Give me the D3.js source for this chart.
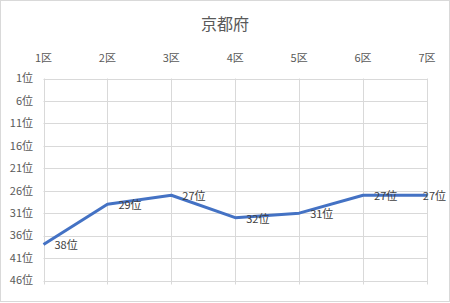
<!DOCTYPE html>
<html>
<head>
<meta charset="utf-8">
<script src="https://cdn.jsdelivr.net/npm/d3@7"></script>
<style>
  body { margin: 0; background: #fff; }
  text { font-family: "Noto Sans CJK JP", sans-serif; }
</style>
</head>
<body>
<div id="canvas"></div>
<script>
"use strict";

let svgWidth = 450;
let svgHeight = 303;
let margin = { top: 78.5, right: 23, bottom: 22.5, left: 43.5 };

/* === Data === */
let districts = ["1区", "2区", "3区", "4区", "5区", "6区", "7区"];
let ranks = [38, 29, 27, 32, 31, 27, 27];
let rankTicks = [1, 6, 11, 16, 21, 26, 31, 36, 41, 46];

/* === Scales === */
let xScale = d3.scalePoint()
  .domain(districts)
  .range([margin.left, svgWidth - margin.right]);

let yScale = d3.scaleLinear()
  .domain([1, 46])
  .range([margin.top, svgHeight - margin.bottom]);

let svg = d3.select("#canvas")
  .append("svg")
  .attr("width", svgWidth)
  .attr("height", svgHeight);

// chart border
svg.append("rect")
  .attr("x", 0.5).attr("y", 0.5)
  .attr("width", svgWidth - 1).attr("height", svgHeight - 2)
  .attr("fill", "#fff")
  .attr("stroke", "#d9d9d9");

/* === Gridlines === */
svg.append("g")
  .selectAll("line")
  .data(rankTicks)
  .enter()
  .append("line")
  .attr("x1", margin.left)
  .attr("x2", svgWidth - margin.right)
  .attr("y1", d => Math.round(yScale(d)) + 0.5)
  .attr("y2", d => Math.round(yScale(d)) + 0.5)
  .attr("stroke", "#d9d9d9");

svg.append("g")
  .selectAll("line")
  .data(districts)
  .enter()
  .append("line")
  .attr("x1", d => Math.round(xScale(d)) + 0.5)
  .attr("x2", d => Math.round(xScale(d)) + 0.5)
  .attr("y1", margin.top)
  .attr("y2", svgHeight - margin.bottom + 4)
  .attr("stroke", "#d9d9d9");

/* === Axis labels === */
svg.append("g")
  .selectAll("text")
  .data(districts)
  .enter()
  .append("text")
  .attr("x", d => xScale(d))
  .attr("y", 62)
  .attr("text-anchor", "middle")
  .attr("font-size", "11px")
  .attr("fill", "#595959")
  .text(d => d);

svg.append("g")
  .selectAll("text")
  .data(rankTicks)
  .enter()
  .append("text")
  .attr("x", 33)
  .attr("y", d => yScale(d))
  .attr("dy", "0.35em")
  .attr("text-anchor", "end")
  .attr("font-size", "11px")
  .attr("fill", "#595959")
  .text(d => d + "位");

/* === Title === */
svg.append("text")
  .attr("x", svgWidth / 2)
  .attr("y", 30)
  .attr("text-anchor", "middle")
  .attr("font-size", "16px")
  .attr("fill", "#595959")
  .text("京都府");

/* === Line === */
let line = d3.line()
  .x((d, i) => xScale(districts[i]))
  .y(d => yScale(d));

svg.append("path")
  .datum(ranks)
  .attr("d", line)
  .attr("fill", "none")
  .attr("stroke", "#4472c4")
  .attr("stroke-width", 3)
  .attr("stroke-linejoin", "round");

/* === Data labels (kept inside the chart like Excel does) === */
svg.append("g")
  .selectAll("text")
  .data(ranks)
  .enter()
  .append("text")
  .attr("y", d => yScale(d) + 1)
  .attr("dy", "0.35em")
  .attr("font-size", "11px")
  .attr("fill", "#404040")
  .text(d => d + "位")
  .attr("x", function (d, i) {
    let w = this.getComputedTextLength();
    return Math.min(xScale(districts[i]) + 11, svgWidth - 4 - w);
  });
</script>
</body>
</html>
